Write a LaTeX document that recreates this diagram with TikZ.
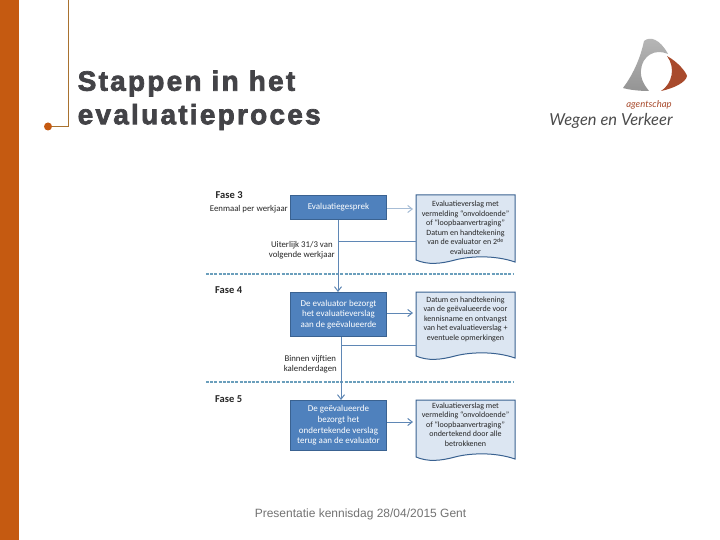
\documentclass[tikz,border=0pt]{standalone}
\usepackage{fontspec}
\setmainfont{Carlito}
\newfontfamily\titlefont[LetterSpace=8,BoldFeatures={FakeBold=2.5}]{Liberation Sans}
\newfontfamily\footfont{Liberation Sans}
\newfontfamily\logofont{Lato}
\usetikzlibrary{arrows.meta}
\definecolor{barc}{HTML}{C55A11}
\definecolor{linec}{HTML}{A9722F}
\definecolor{titlec}{HTML}{434347}
\definecolor{boxf}{HTML}{4F81BD}
\definecolor{boxd}{HTML}{3A6291}
\definecolor{docf}{HTML}{DCE6F2}
\definecolor{conc}{HTML}{5F87B5}
\definecolor{dashc}{HTML}{6B9FBC}
\definecolor{rust}{HTML}{A84A2C}
\tikzset{
  x=1pt,y=-1pt,
  title/.style={anchor=west,inner sep=0,font=\titlefont\fontsize{28}{30}\selectfont\bfseries,text=titlec},
  stepbox/.style={draw=boxd,line width=1pt,fill=boxf,text=white,anchor=north west,minimum width=96pt,inner sep=1pt,align=center,font=\fontsize{9}{10.6}\selectfont},
  doctext/.style={anchor=center,inner sep=0,minimum width=99pt,align=center,text=black!85,font=\fontsize{8}{9.5}\selectfont},
  docshape/.style={draw=boxd,line width=1pt,fill=docf},
  note/.style={inner sep=0,align=center,text=black!85,font=\fontsize{8.8}{10.5}\selectfont},
  phase/.style={anchor=west,inner sep=0,text=black!85,font=\fontsize{10.5}{12}\selectfont\bfseries},
  conn/.style={draw=conc,line width=1pt},
  arrowc/.style={conn,-{Straight Barb[length=4.5pt,width=7pt]}},
  sep/.style={draw=dashc,line width=2pt,dash pattern=on 3pt off 1.2pt},
}
\newcommand{\wavedoc}[2]{% top, bottom
  \path[docshape] (416,#1) -- (515,#1) -- (515,#2)
    .. controls (495,#2-7) and (470,#2-6) .. (455,#2-2)
    .. controls (440,#2+2) and (428,#2+3) .. (416,#2-2) -- cycle;}
\begin{document}
\begin{tikzpicture}
\useasboundingbox (0,0) rectangle (720,540);
\fill[white] (0,0) rectangle (720,540);
% slide frame
\fill[barc] (0,0) rectangle (19,540);
\draw[linec,line width=0.8pt] (68,0) -- (68,126.5) -- (48,126.5);
\fill[barc] (48,126.5) circle (4);
\node[title] (t1) at (77.5,83.5) {Stappen in het};
\node[title] (t2) at (77.5,117) {evaluatieproces};
% logo
\shade[top color=black!28,bottom color=black!42] (644,41) .. controls (650,36) and (660,39) .. (668,54)
  .. controls (655,48) and (642,56) .. (641,70)
  .. controls (640,79) and (645,86) .. (649,91)
  .. controls (640,91) and (630,90) .. (623,88)
  .. controls (632,76) and (640,60) .. (644,41) -- cycle;
\fill[rust] (667,56) .. controls (678,62) and (686,72) .. (687,76)
  .. controls (686,82) and (675,88) .. (661,91)
  .. controls (672,84) and (676,68) .. (667,56) -- cycle;
\node[inner sep=0,text=rust,font=\logofont\fontsize{9.5}{12}\selectfont\itshape] (lg1) at (649,104.5) {agentschap};
\node[inner sep=0,text=black!70,font=\logofont\fontsize{16.5}{20}\selectfont\itshape] (lg2) at (611,120.5) {Wegen en Verkeer};
% separators
\coordinate (s1a) at (206,274); \coordinate (s1b) at (514,274);
\coordinate (s2a) at (206,382); \coordinate (s2b) at (514,382);
\draw[sep] (s1a) -- (s1b);
\draw[sep] (s2a) -- (s2b);
% phase labels
\node[phase] (f3) at (215.5,195) {Fase 3};
\node[phase] (f4) at (215,290.5) {Fase 4};
\node[phase] (f5) at (215,399.5) {Fase 5};
\node[note,anchor=east] (n1) at (288,209.5) {Eenmaal per werkjaar};
\node[note,anchor=east] (n2) at (335,250) {Uiterlijk 31/3 van\\volgende werkjaar};
\node[note,anchor=east] (n3) at (337,364) {Binnen vijftien\\kalenderdagen};
% process boxes
\node[stepbox,minimum height=24pt] (b1) at (290,195) {Evaluatiegesprek};
\node[stepbox,minimum height=44pt] (b2) at (290,292) {De evaluator bezorgt\\het evaluatieverslag\\aan de geëvalueerde};
\node[stepbox,minimum height=50pt] (b3) at (290,400) {De geëvalueerde\\bezorgt het\\ondertekende verslag\\terug aan de evaluator};
% documents
\wavedoc{195}{262}
\wavedoc{292}{358}
\wavedoc{400}{459}
\node[doctext] (d1) at (465.5,228) {Evaluatieverslag met\\vermelding “onvoldoende”\\of “loopbaanvertraging”\\Datum en handtekening\\van de evaluator en 2\textsuperscript{de}\\evaluator};
\node[doctext] (d2) at (465.5,319) {Datum en handtekening\\van de geëvalueerde voor\\kennisname en ontvangst\\van het evaluatieverslag +\\eventuele opmerkingen};
\node[doctext] (d3) at (465.5,424.5) {Evaluatieverslag met\\vermelding “onvoldoende”\\of “loopbaanvertraging”\\ondertekend door alle\\betrokkenen};
% connectors
\coordinate (e1) at (413,209);
\coordinate (e2) at (413,313);
\coordinate (e3) at (413,422);
\coordinate (j1) at (338,241);
\coordinate (j1e) at (416,241);
\coordinate (j2) at (341,345);
\coordinate (j2e) at (416,345);
\draw[arrowc,draw=conc!55] (b1.east |- e1) -- (e1);
\draw[arrowc] (b2.east |- e2) -- (e2);
\draw[arrowc] (b3.east |- e3) -- (e3);
\draw[arrowc] (j1 |- b1.south) -- (j1 |- b2.north);
\draw[arrowc] (j2 |- b2.south) -- (j2 |- b3.north);
\draw[conn] (j1) -- (j1e);
\draw[conn] (j2) -- (j2e);
% footer
\node[inner sep=0,text=black!55,font=\footfont\fontsize{12}{14}\selectfont] (foot) at (360.5,514.5) {Presentatie kennisdag 28/04/2015 Gent};
\end{tikzpicture}
\end{document}
